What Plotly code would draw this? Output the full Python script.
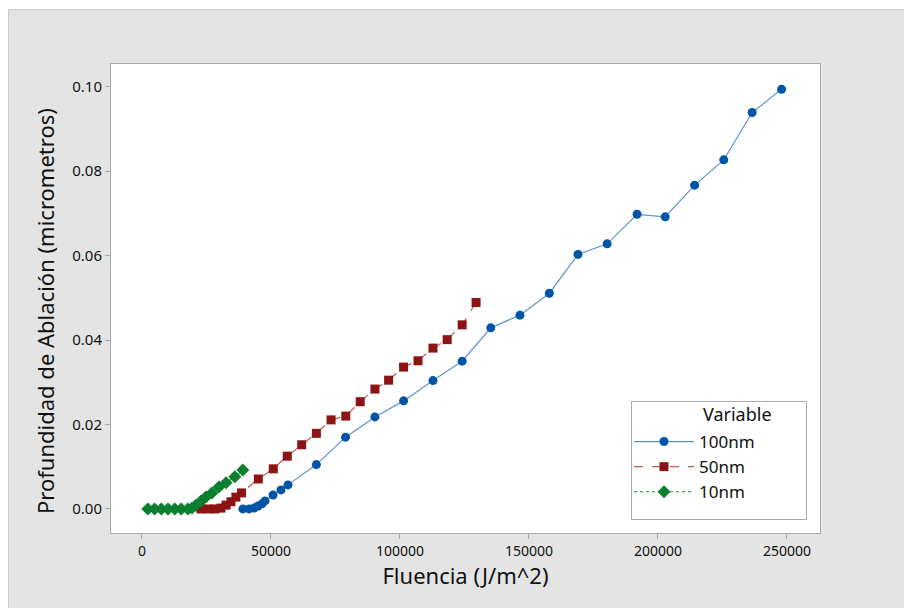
import plotly.graph_objects as go

# ---- data ----
fluence_100nm = [39100, 41500, 43400, 45000, 46500, 47700, 50800, 53900, 56600,
                 67600, 78900, 90300, 101400, 112800, 124100, 135200, 146500,
                 157900, 169000, 180300, 191900, 202800, 214200, 225500, 236500, 247900]
depth_100nm = [0.0, 0.0, 0.0002, 0.0007, 0.0012, 0.0019, 0.0033, 0.0045, 0.0057,
               0.0105, 0.0170, 0.0218, 0.0256, 0.0304, 0.0350, 0.0429, 0.0459,
               0.0511, 0.0603, 0.0628, 0.0698, 0.0692, 0.0767, 0.0827, 0.0939, 0.0994]

fluence_50nm = [22900, 25600, 28300, 30600, 32600, 34500, 36400, 38600,
                45100, 50900, 56300, 61900, 67600, 73300, 79000, 84600, 90300,
                95600, 101400, 107000, 112800, 118300, 124100, 129500]
depth_50nm = [0.0, 0.0, 0.0, 0.0002, 0.0009, 0.0017, 0.0028, 0.0038,
              0.0071, 0.0095, 0.0125, 0.0152, 0.0179, 0.0211, 0.0220, 0.0254, 0.0284,
              0.0305, 0.0336, 0.0351, 0.0381, 0.0401, 0.0436, 0.0489]

fluence_10nm = [2300, 4900, 7500, 10100, 12700, 15200, 17800, 19400, 20900,
                22900, 24800, 27100, 29800, 32600, 36000, 39100]
depth_10nm = [0.0, 0.0, 0.0, 0.0, 0.0, 0.0, 0.0, 0.0002, 0.0009,
              0.0019, 0.0028, 0.0038, 0.0052, 0.0062, 0.0076, 0.0092]

series_names = ["100nm", "50nm", "10nm"]
legend_title = "Variable"
x_title = "Fluencia (J/m^2)"
y_title = "Profundidad de Ablación (micrometros)"
x_ticks = [0, 50000, 100000, 150000, 200000, 250000]
y_ticks = [0.0, 0.02, 0.04, 0.06, 0.08, 0.10]

FONT = "Noto Sans"
TXT = "#111111"

fig = go.Figure()
fig.add_trace(go.Scatter(
    x=fluence_100nm, y=depth_100nm, name=series_names[0], mode="lines+markers",
    line=dict(color="#5f93d3", width=1.2, dash="solid"),
    marker=dict(symbol="circle", size=9, color="#0054a6"),
))
fig.add_trace(go.Scatter(
    x=fluence_50nm, y=depth_50nm, name=series_names[1], mode="lines+markers",
    line=dict(color="#c05a5a", width=1.2, dash="dash"),
    marker=dict(symbol="square", size=9, color="#8c1414"),
))
fig.add_trace(go.Scatter(
    x=fluence_10nm, y=depth_10nm, name=series_names[2], mode="lines+markers",
    line=dict(color="#1a8a36", width=1.2, dash="dot"),
    marker=dict(symbol="diamond", size=10, color="#0a7f2e"),
))

# plot-area geometry (px)
W, H = 904, 608
L, R, T, B = 111, 84, 64, 75
pw, ph = W - L - R, H - T - B

def px_to_paper_x(px):
    return (px - L) / pw

def px_to_paper_y(py):
    return (H - B - py) / ph

shapes = [
    dict(type="rect", xref="paper", yref="paper", layer="below",
         x0=px_to_paper_x(-5), x1=px_to_paper_x(W + 5), y0=px_to_paper_y(9), y1=px_to_paper_y(-5),
         fillcolor="white", line=dict(width=0)),
    dict(type="rect", xref="paper", yref="paper", layer="below",
         x0=px_to_paper_x(-5), x1=px_to_paper_x(8), y0=px_to_paper_y(H + 5), y1=px_to_paper_y(-5),
         fillcolor="white", line=dict(width=0)),
    dict(type="line", xref="paper", yref="paper", layer="below",
         x0=px_to_paper_x(8), x1=px_to_paper_x(W + 5), y0=px_to_paper_y(9.5), y1=px_to_paper_y(9.5),
         line=dict(color="#cccccc", width=1)),
    dict(type="line", xref="paper", yref="paper", layer="below",
         x0=px_to_paper_x(8.5), x1=px_to_paper_x(8.5), y0=px_to_paper_y(9), y1=px_to_paper_y(H + 5),
         line=dict(color="#cccccc", width=1)),
    dict(type="rect", xref="paper", yref="paper", layer="above",
         x0=px_to_paper_x(631.5), x1=px_to_paper_x(806.5), y0=px_to_paper_y(519.5), y1=px_to_paper_y(401.5),
         fillcolor="white", line=dict(color="#aaaaaa", width=1)),
]

fig.update_layout(
    width=W, height=H,
    margin=dict(l=L, r=R, t=T, b=B, pad=0),
    paper_bgcolor="#e4e4e4", plot_bgcolor="white",
    font=dict(family=FONT, color=TXT),
    shapes=shapes,
    showlegend=True,
    legend=dict(
        x=px_to_paper_x(629), y=px_to_paper_y(424), xanchor="left", yanchor="top",
        bgcolor="rgba(0,0,0,0)", borderwidth=0,
        font=dict(family=FONT, size=17, color=TXT),
        itemwidth=60, tracegroupgap=0,
    ),
    annotations=[
        dict(text=legend_title, xref="paper", yref="paper",
             x=px_to_paper_x(737), y=px_to_paper_y(414), xanchor="center", yanchor="middle",
             showarrow=False, font=dict(family=FONT, size=18, color=TXT)),
        dict(text=y_title, xref="paper", yref="paper", textangle=-90,
             x=px_to_paper_x(45), y=px_to_paper_y(311), xanchor="center", yanchor="middle",
             showarrow=False, font=dict(family=FONT, size=22, color=TXT)),
    ],
    xaxis=dict(
        range=[-12000, 262800], tickvals=x_ticks, ticktext=[str(v) for v in x_ticks],
        showgrid=False, zeroline=False, showline=True, mirror=True,
        linecolor="#a8a8a8", linewidth=1, ticks="outside", ticklen=5, tickcolor="#a8a8a8",
        tickfont=dict(family=FONT, size=14, color=TXT),
        title=dict(text=x_title, font=dict(family=FONT, size=22, color=TXT), standoff=6),
    ),
    yaxis=dict(
        range=[-0.0057, 0.1054], tickvals=y_ticks, tickformat=".2f",
        showgrid=False, zeroline=False, showline=True, mirror=True,
        linecolor="#a8a8a8", linewidth=1, ticks="outside", ticklen=5, tickcolor="#a8a8a8",
        tickfont=dict(family=FONT, size=15, color=TXT),
    ),
)

fig.write_html("out.html")
